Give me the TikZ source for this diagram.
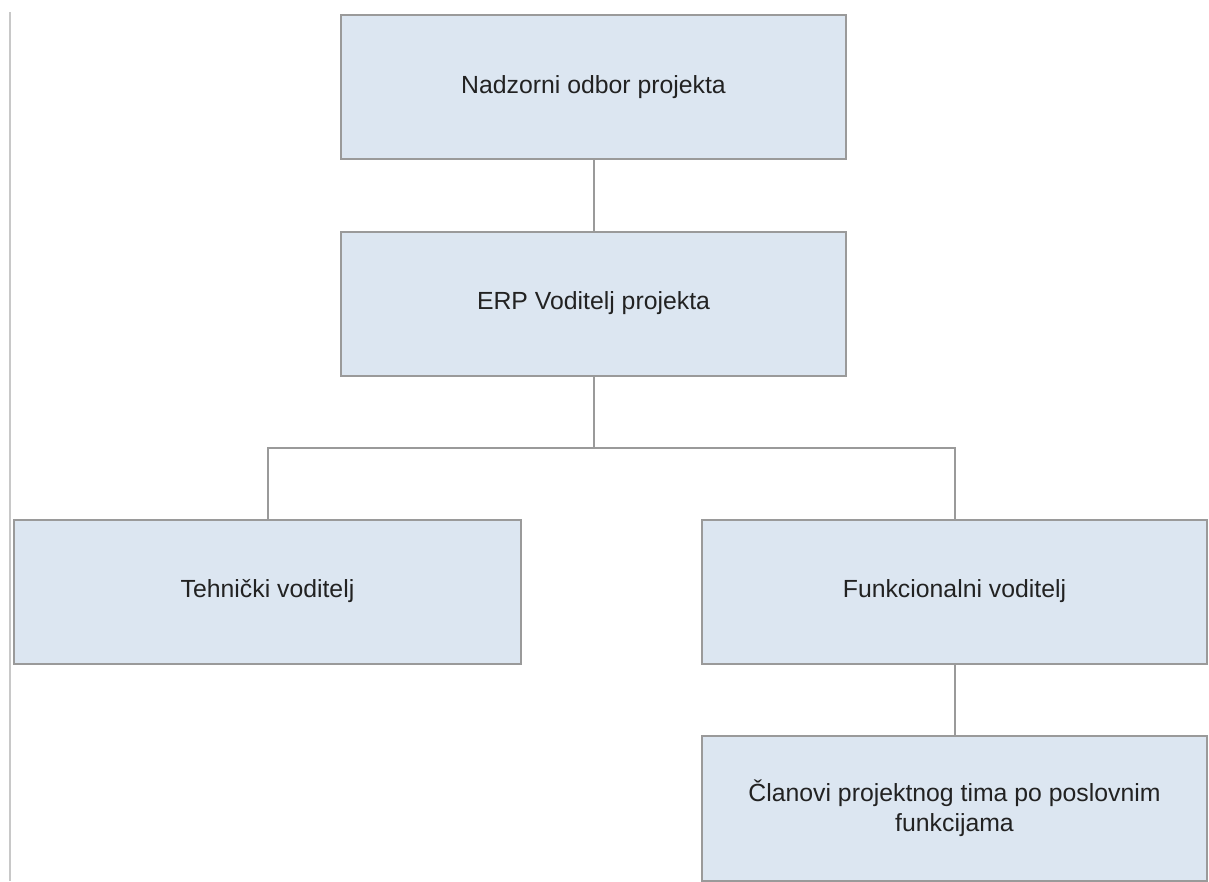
\documentclass[tikz,border=0pt]{standalone}
\usepackage{fontspec}
\setmainfont{Liberation Sans}
\usetikzlibrary{calc}

\begin{document}
\begin{tikzpicture}[x=1pt,y=-1pt,
 box/.style={draw=boxline,fill=boxfill,line width=2pt,
  minimum width=\w,minimum height=\h,inner sep=0pt,align=center,
  text=boxtext,font=\fontsize{24.8}{30}\selectfont},
 link/.style={draw=boxline,line width=2pt}]

\definecolor{boxfill}{HTML}{DCE6F1}
\definecolor{boxline}{HTML}{9A9A9A}
\definecolor{boxtext}{HTML}{222222}
\definecolor{margin}{HTML}{C8C8C8}

\def\w {505pt} \def\h {144pt}
\def\ysplit {448}

\useasboundingbox (0,0) rectangle (1209,881);
\draw[margin,line width=2pt] (10,12) -- (10,881);

\node[box] (odbor) at (593.5,87) {Nadzorni odbor projekta};
\node[box] (voditelj) at (593.5,303.5) {ERP Voditelj projekta};
\node[box,minimum width=507pt] (tehn) at (267.5,591.5) {Tehnički voditelj};
\node[box] (funk) at (954.5,591.5) {Funkcionalni voditelj};
\node[box,minimum height=145pt] (clan) at (954.5,808)
 {Članovi projektnog tima po poslovnim\\funkcijama};

% veze
\coordinate (split) at (voditelj.south |- 0,\ysplit);
\draw[link] (odbor) -- (voditelj);
\draw[link] (voditelj) -- (split);
\draw[link] (tehn) |- (split) -| (funk);
\draw[link] (funk) -- (clan);
\end{tikzpicture}
\end{document}
